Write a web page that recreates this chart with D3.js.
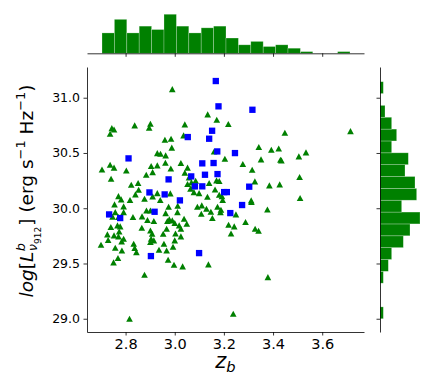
<!DOCTYPE html>
<html>
<head>
<meta charset="utf-8">
<script src="https://cdn.jsdelivr.net/npm/d3@7"></script>
<style>
  body { margin: 0; background: #fff; }
  text { font-family: "DejaVu Sans", sans-serif; }
</style>
</head>
<body>
<div id="chart"></div>
<script>
// green triangles (z_b, log L)
var greenX = [2.990,2.744,2.753,2.737,2.837,2.901,2.896,3.041,3.036,2.960,2.985,2.988,2.929,2.942,2.963,3.025,2.962,2.984,2.929,2.904,
  2.910,2.884,3.052,3.041,2.704,2.737,2.753,2.803,2.741,2.823,2.851,2.853,2.840,2.771,2.782,2.877,2.929,2.910,3.058,3.068,
  3.052,3.085,3.064,3.078,3.099,3.134,3.171,3.218,3.448,3.715,3.342,3.393,3.423,3.430,3.434,3.351,3.204,3.160,3.277,3.315,
  3.326,3.385,3.427,3.505,3.534,3.508,3.510,3.140,3.170,3.181,3.164,3.181,3.192,3.311,2.755,2.792,2.758,2.792,2.771,2.740,
  2.767,2.778,2.726,2.753,2.774,2.771,2.792,2.784,2.700,2.758,2.785,2.833,2.837,2.844,2.769,2.751,2.830,2.867,2.885,2.901,
  2.915,2.866,2.901,2.908,2.904,2.901,2.915,2.936,2.956,2.967,2.963,2.970,2.967,2.953,3.000,3.011,2.990,3.000,3.018,3.025,
  3.038,3.049,3.025,2.973,2.997,3.032,2.877,2.816,3.012,3.110,3.129,3.108,3.188,3.186,3.153,3.249,3.219,3.242,3.312,3.377,
  3.288,3.327,3.341,3.137,3.379,3.238,2.982,2.978,3.003,2.993,2.975,2.747,2.729,2.818,2.889,2.941,3.075,3.092,3.133,3.147,
  3.195,3.174,3.229];
var greenY = [31.078,30.725,30.713,30.674,30.750,30.765,30.728,30.759,30.659,30.620,30.629,30.548,30.499,30.493,30.478,30.409,30.412,30.360,30.388,30.382,
  30.327,30.303,30.367,30.321,30.351,30.394,30.367,30.342,30.267,30.213,30.228,30.167,30.125,30.110,30.080,30.086,30.137,30.107,30.279,30.234,
  30.219,30.249,30.176,30.146,30.137,30.849,30.801,30.762,30.683,30.698,30.554,30.529,30.541,30.439,30.433,30.442,30.448,30.514,30.400,30.348,
  30.243,30.207,30.216,30.469,30.505,30.282,30.092,30.228,30.252,30.246,30.170,30.122,30.110,30.071,30.035,30.017,29.965,29.965,29.920,29.830,
  29.845,29.836,29.763,29.754,29.790,29.745,29.724,29.700,29.670,29.643,29.618,29.679,29.640,29.603,29.549,29.510,29.920,29.926,29.980,29.980,
  29.884,29.824,29.799,29.769,29.724,29.694,29.709,29.624,29.679,29.618,29.956,29.884,29.814,29.769,29.709,29.965,29.890,29.866,29.845,29.814,
  29.905,29.860,29.745,29.534,29.489,29.474,29.398,29.000,30.023,30.026,29.995,29.950,29.986,29.965,29.911,29.944,29.851,29.836,30.056,29.989,
  29.875,29.814,29.796,29.492,29.377,29.045,30.134,29.899,29.772,29.652,30.014,29.923,29.712,30.074,29.893,30.074,30.200,30.014,30.104,29.968,
  30.074,30.014,29.772];

// blue squares
var blueX = [3.167,3.178,3.316,3.152,3.140,3.053,2.812,3.173,3.245,3.112,3.158,2.975,3.123,3.174,3.067,3.082,3.112,2.897,2.959,3.303,
  3.201,3.212,3.021,3.274,2.918,2.733,2.778,3.226,3.099,2.903];
var blueY = [31.151,30.922,30.891,30.701,30.629,30.644,30.451,30.514,30.499,30.406,30.409,30.261,30.303,30.309,30.288,30.198,30.198,30.143,30.125,30.195,
  30.146,30.146,30.071,30.029,29.968,29.944,29.911,29.956,29.594,29.567];

// marginal histograms (counts per bin, 20 bins)
var xHistRange = [2.704, 3.713];
var xHistCounts = [12,20,12,16,14,23,16,12,15,16,9,5,7,4,5,3,1,0,0,1];
var yHistRange = [29.0, 31.145];
var yHistCounts = [2,0,0,2,5,7,14,18,24,13,22,21,15,17,7,10,7,3,0,2];

var xTicks = [2.8, 3.0, 3.2, 3.4, 3.6];
var yTicks = [29.0, 29.5, 30.0, 30.5, 31.0];

var width = 436, height = 382;
var green = "#008000", blue = "#0000ff";

var svg = d3.select("#chart")
  .append("svg")
    .attr("width", width)
    .attr("height", height);

var x = d3.scaleLinear().domain([2.643, 3.770]).range([87, 364]);
var y = d3.scaleLinear().domain([28.88, 31.278]).range([332, 67]);
var hx = d3.scaleLinear().domain([0, 24.15]).range([53.3, 12.3]);
var hy = d3.scaleLinear().domain([0, 25.2]).range([380, 422]);

// top histogram
var xEdges = d3.range(xHistCounts.length + 1).map(function(i) {
  return xHistRange[0] + i * (xHistRange[1] - xHistRange[0]) / xHistCounts.length; });
svg.append("g").selectAll("rect")
  .data(xHistCounts)
  .enter().append("rect")
    .attr("x", function(d, i) { return x(xEdges[i]); })
    .attr("width", function(d, i) { return x(xEdges[i + 1]) - x(xEdges[i]); })
    .attr("y", function(d) { return hx(d); })
    .attr("height", function(d) { return hx(0) - hx(d); })
    .style("fill", green)
    .style("stroke", "#fff").style("stroke-opacity", 0.35).style("stroke-width", 0.7);

svg.append("g")
  .attr("transform", "translate(0," + hx(0) + ")")
  .call(d3.axisBottom(x).tickValues(xTicks).tickSize(3.5).tickSizeOuter(0).tickFormat(""));

// right histogram
var yEdges = d3.range(yHistCounts.length + 1).map(function(i) {
  return yHistRange[0] + i * (yHistRange[1] - yHistRange[0]) / yHistCounts.length; });
svg.append("g").selectAll("rect")
  .data(yHistCounts)
  .enter().append("rect")
    .attr("x", hy(0))
    .attr("width", function(d) { return hy(d) - hy(0); })
    .attr("y", function(d, i) { return y(yEdges[i + 1]); })
    .attr("height", function(d, i) { return y(yEdges[i]) - y(yEdges[i + 1]); })
    .style("fill", green)
    .style("stroke", "#fff").style("stroke-opacity", 0.35).style("stroke-width", 0.7);

svg.append("g")
  .attr("transform", "translate(" + hy(0) + ",0)")
  .call(d3.axisLeft(y).tickValues(yTicks).tickSize(3.5).tickSizeOuter(0).tickFormat(""));

// main axes
var xAxis = svg.append("g")
  .attr("transform", "translate(0,332)")
  .call(d3.axisBottom(x).tickValues(xTicks).tickSize(3.5).tickPadding(3).tickSizeOuter(0).tickFormat(d3.format(".1f")));
xAxis.selectAll("text").style("font-size", "14.5px").style("fill", "#000");

var yAxis = svg.append("g")
  .attr("transform", "translate(87,0)")
  .call(d3.axisLeft(y).tickValues(yTicks).tickSize(3.5).tickPadding(3.5).tickSizeOuter(0).tickFormat(d3.format(".1f")));
yAxis.selectAll("text").style("font-size", "12.5px").style("fill", "#000");

svg.selectAll(".domain, .tick line").style("stroke", "#000").style("stroke-width", 0.8);

// triangle marker like matplotlib '^'
var triUp = { draw: function(ctx, size) {
  var r = Math.sqrt(size) / 2;
  ctx.moveTo(0, -r * 0.92); ctx.lineTo(r, r * 0.92); ctx.lineTo(-r, r * 0.92); ctx.closePath();
} };

svg.append("g").selectAll("path")
  .data(greenX)
  .enter().append("path")
    .attr("transform", function(d, i) { return "translate(" + x(d) + "," + y(greenY[i]) + ")"; })
    .attr("d", d3.symbol().type(triUp).size(44))
    .style("fill", green);

svg.append("g").selectAll("path")
  .data(blueX)
  .enter().append("path")
    .attr("transform", function(d, i) { return "translate(" + x(d) + "," + y(blueY[i]) + ")"; })
    .attr("d", d3.symbol().type(d3.symbolSquare).size(40))
    .style("fill", blue);

// helper for math-like labels
function piece(g, str, px, py, size, italic) {
  var t = g.append("text")
    .attr("x", px).attr("y", py)
    .style("font-size", size + "px")
    .style("font-style", italic ? "italic" : "normal")
    .text(str);
  return t.node().getComputedTextLength();
}

// x label: z_b
var xl = svg.append("g");
var xin = xl.append("g");
var XF = 21, cx = 0;
cx += piece(xin, "z", cx, 0, XF, true);
cx += piece(xin, "b", cx, 0.2 * XF, 0.7 * XF, true);
xin.attr("transform", "translate(" + (-cx / 2) + ",0)");
xl.attr("transform", "translate(" + ((87 + 364) / 2) + ",368)");

// y label: log[L^b_{nu912}] (erg s^-1 Hz^-1)
var yl = svg.append("g").attr("transform", "translate(33,191) rotate(-90)");
var yin = yl.append("g");
var F = 18.5, c = 0;
c += piece(yin, "log", c, 0, F, true);
c += piece(yin, "[", c, 0, F, false);
c += piece(yin, "L", c, 0, F, true) + 0.5;
var wb = piece(yin, "b", c, -0.42 * F, 0.7 * F, true);
var wn = piece(yin, "\u03bd", c, 0.24 * F, 0.7 * F, true);
var w9 = piece(yin, "912", c + wn, 0.42 * F, 0.49 * F, false);
c += Math.max(wb, wn + w9) + 1;
c += piece(yin, "]", c, 0, F, false);
c += piece(yin, "\u00a0(erg\u00a0s", c, 0, F, false);
c += piece(yin, "\u22121", c, -0.42 * F, 0.7 * F, false);
c += piece(yin, "\u00a0Hz", c, 0, F, false);
c += piece(yin, "\u22121", c, -0.42 * F, 0.7 * F, false);
c += piece(yin, ")", c, 0, F, false);
yin.attr("transform", "translate(" + (-c / 2) + ",0)");
</script>
</body>
</html>
